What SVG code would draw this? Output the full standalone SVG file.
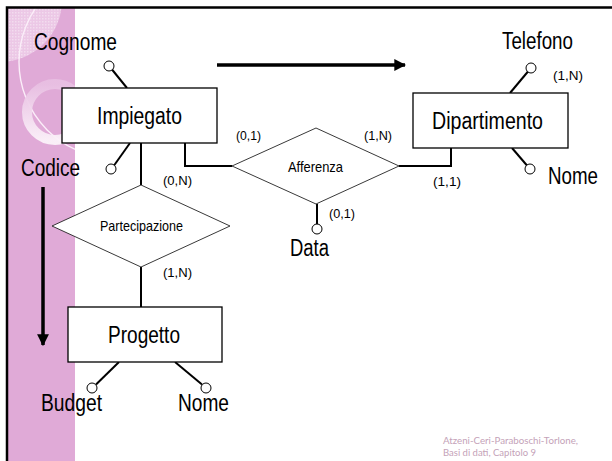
<svg xmlns="http://www.w3.org/2000/svg" width="612" height="461" viewBox="0 0 612 461">
  <defs>
    <clipPath id="stripClip">
      <rect x="8" y="8" width="67" height="453"/>
    </clipPath>
    <pattern id="checker" width="3" height="3" patternUnits="userSpaceOnUse">
      <rect width="3" height="3" fill="#ecc8e6"/>
      <rect width="1.5" height="1.5" fill="#f3dcef"/>
    </pattern>
    <linearGradient id="ringGrad" x1="0" y1="0" x2="0" y2="1">
      <stop offset="0" stop-color="#e8bfe2"/>
      <stop offset="1" stop-color="#fbf2f9"/>
    </linearGradient>
    <marker id="arrowHead" viewBox="0 0 10 10" refX="9" refY="5" markerWidth="3.4" markerHeight="3.6" orient="auto" markerUnits="strokeWidth">
      <path d="M0,0 L10,5 L0,10 Z" fill="#000"/>
    </marker>
  </defs>
  <style>
    .ent { fill: #fff; stroke: #000; stroke-width: 1.3; }
    .rel { fill: #fff; stroke: #222; stroke-width: 0.9; }
    .lbl { font-family: "Liberation Sans", Arial, sans-serif; font-size: 23.5px; fill: #000; }
    .rlbl { font-family: "Liberation Sans", Arial, sans-serif; font-size: 14.5px; fill: #000; }
    .card { font-family: "Liberation Sans", Arial, sans-serif; font-size: 13.5px; fill: #000; }
    .att { fill: #fff; stroke: #000; stroke-width: 1; }
    .link { stroke: #000; stroke-width: 2; fill: none; }
    .flow { stroke: #000; stroke-width: 3.5; fill: none; marker-end: url(#arrowHead); }
    .foot { font-family: "Lato", "Liberation Sans", sans-serif; font-size: 9.5px; fill: #c4a2b8; }
  </style>

  <!-- background -->
  <rect x="0" y="0" width="612" height="461" fill="#fff"/>

  <!-- left decorative strip -->
  <g clip-path="url(#stripClip)">
    <rect x="8" y="8" width="67" height="453" fill="#e0aad7"/>
    <circle cx="0" cy="0" r="62" fill="url(#checker)"/>
    <circle cx="115" cy="62" r="96" fill="none" stroke="#fbeef9" stroke-width="1.4"/>
    <circle cx="55" cy="112" r="28" fill="none" stroke="url(#ringGrad)" stroke-width="10" opacity="0.95"/>
  </g>

  <!-- slide frame -->
  <path d="M7,461 V7.5 H612" fill="none" stroke="#000" stroke-width="2.5"/>

  <!-- reading-direction arrows -->
  <line class="flow" x1="217" y1="65" x2="405" y2="65"/>
  <line class="flow" x1="43" y1="187" x2="43" y2="345"/>

  <!-- connectors -->
  <g id="connectors">
    <polyline class="link" points="185,143 185,166 232,166"/>
    <polyline class="link" points="399,166 451,166 451,148"/>
    <line class="link" x1="141" y1="143" x2="141" y2="185"/>
    <line class="link" x1="141" y1="267" x2="141" y2="307"/>
    <line class="link" x1="317" y1="204" x2="317" y2="225"/>
    <line class="link" x1="127" y1="88" x2="112" y2="69.5"/>
    <line class="link" x1="130" y1="143" x2="114" y2="165.5"/>
    <line class="link" x1="510" y1="93" x2="528" y2="71.5"/>
    <line class="link" x1="512" y1="148" x2="527" y2="165.5"/>
    <line class="link" x1="119" y1="362" x2="96" y2="384.5"/>
    <line class="link" x1="175" y1="362" x2="202" y2="384.5"/>
  </g>

  <!-- entities -->
  <g id="Impiegato">
    <rect class="ent" x="62" y="88" width="155" height="55"/>
    <text class="lbl" x="97" y="124" textLength="85" lengthAdjust="spacingAndGlyphs">Impiegato</text>
  </g>
  <g id="Dipartimento">
    <rect class="ent" x="413" y="93" width="155" height="55"/>
    <text class="lbl" x="432" y="129" textLength="111" lengthAdjust="spacingAndGlyphs">Dipartimento</text>
  </g>
  <g id="Progetto">
    <rect class="ent" x="68" y="307" width="154" height="55"/>
    <text class="lbl" x="108" y="343" textLength="72" lengthAdjust="spacingAndGlyphs">Progetto</text>
  </g>

  <!-- relationships -->
  <g id="Afferenza">
    <polygon class="rel" points="232,166 316,128 399,166 316,204"/>
    <text class="rlbl" x="288" y="172" textLength="55" lengthAdjust="spacingAndGlyphs">Afferenza</text>
  </g>
  <g id="Partecipazione">
    <polygon class="rel" points="52,226 141,185 230,226 141,267"/>
    <text class="rlbl" x="100" y="231" textLength="83" lengthAdjust="spacingAndGlyphs">Partecipazione</text>
  </g>

  <!-- attributes -->
  <g id="attr-Cognome">
    <circle class="att" cx="109" cy="66" r="5"/>
    <text class="lbl" x="34" y="50" textLength="83" lengthAdjust="spacingAndGlyphs">Cognome</text>
  </g>
  <g id="attr-Codice">
    <circle class="att" cx="111" cy="169" r="5"/>
    <text class="lbl" x="21" y="176" textLength="59" lengthAdjust="spacingAndGlyphs">Codice</text>
  </g>
  <g id="attr-Telefono">
    <circle class="att" cx="531" cy="68" r="5"/>
    <text class="lbl" x="502" y="49" textLength="71" lengthAdjust="spacingAndGlyphs">Telefono</text>
  </g>
  <g id="attr-NomeDip">
    <circle class="att" cx="530" cy="169" r="5"/>
    <text class="lbl" x="548" y="184" textLength="50" lengthAdjust="spacingAndGlyphs">Nome</text>
  </g>
  <g id="attr-Data">
    <circle class="att" cx="317" cy="229" r="5"/>
    <text class="lbl" x="290" y="256" textLength="39" lengthAdjust="spacingAndGlyphs">Data</text>
  </g>
  <g id="attr-Budget">
    <circle class="att" cx="92" cy="388" r="5"/>
    <text class="lbl" x="41" y="411" textLength="61" lengthAdjust="spacingAndGlyphs">Budget</text>
  </g>
  <g id="attr-NomeProg">
    <circle class="att" cx="206" cy="388" r="5"/>
    <text class="lbl" x="178" y="411" textLength="51" lengthAdjust="spacingAndGlyphs">Nome</text>
  </g>

  <!-- cardinalities -->
  <g id="cardinalities">
    <text class="card" x="163" y="185" textLength="29" lengthAdjust="spacingAndGlyphs">(0,N)</text>
    <text class="card" x="163" y="277" textLength="29" lengthAdjust="spacingAndGlyphs">(1,N)</text>
    <text class="card" x="236" y="140" textLength="25" lengthAdjust="spacingAndGlyphs">(0,1)</text>
    <text class="card" x="364" y="140" textLength="28" lengthAdjust="spacingAndGlyphs">(1,N)</text>
    <text class="card" x="433" y="186" textLength="28" lengthAdjust="spacingAndGlyphs">(1,1)</text>
    <text class="card" x="553" y="80" textLength="30" lengthAdjust="spacingAndGlyphs">(1,N)</text>
    <text class="card" x="329" y="218" textLength="26" lengthAdjust="spacingAndGlyphs">(0,1)</text>
  </g>

  <!-- footer -->
  <text class="foot" x="443" y="444" textLength="135" lengthAdjust="spacingAndGlyphs">Atzeni-Ceri-Paraboschi-Torlone,</text>
  <text class="foot" x="443" y="456" textLength="93" lengthAdjust="spacingAndGlyphs">Basi di dati, Capitolo 9</text>
</svg>
